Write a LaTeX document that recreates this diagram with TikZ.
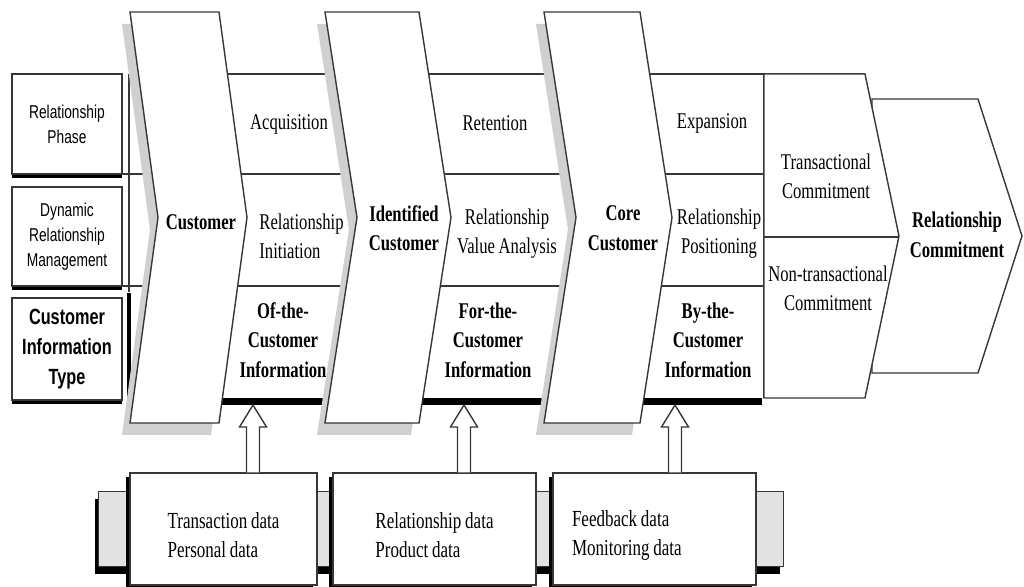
\documentclass[tikz,border=0pt]{standalone}
\usepackage{fontspec}
\setmainfont{Liberation Serif}[FakeStretch=0.74,WordSpace=0.88]
\newfontfamily\rowfont{Liberation Sans}[FakeStretch=0.74,WordSpace=0.88]
\usetikzlibrary{calc,shadows}
\definecolor{edgegray} {RGB}{55,55,55}
\definecolor{shadegray}{RGB}{208,208,208}
\definecolor{bandgray} {RGB}{226,226,226}
% hollow block arrow from a data box up to a point on a bar
\newcommand{\blockarrow}[2]{%
  \filldraw[arrline] ($(#2 |- #1.north)+(-6.5,0)$) -- ($(#2)+(-6.5,22)$)
    -- ($(#2)+(-13.5,22)$) -- (#2) -- ($(#2)+(13.5,22)$)
    -- ($(#2)+(6.5,22)$) -- ($(#2 |- #1.north)+(6.5,0)$);}
\newcommand{\firstline}{\rule{0pt}{14pt}}

\begin{document}
\begin{tikzpicture}[
  x=0.5pt,y=-0.5pt,
  line/.style   ={draw=edgegray,line width=0.7pt},
  chevron/.style={draw=edgegray,fill=white,line width=0.7pt},
  lbox/.style   ={draw=edgegray,fill=white,line width=0.7pt,
                  minimum width=55pt,align=center,inner sep=1pt,
                  font=\rowfont\fontsize{9.3pt}{12.5pt}\selectfont,
                  drop shadow={shadow xshift=0pt,shadow yshift=-2.2pt,
                               fill=black,opacity=1}},
  lboxb/.style  ={lbox,font=\rowfont\bfseries\fontsize{11pt}{15pt}\selectfont},
  cell/.style   ={align=center,inner sep=0pt,
                  font=\fontsize{11.25pt}{14.5pt}\selectfont},
  bcell/.style  ={cell,font=\bfseries\fontsize{11.25pt}{14.75pt}\selectfont},
  dbox/.style   ={draw=edgegray,fill=white,line width=0.7pt,
                  minimum width=93.5pt,minimum height=56pt,
                  align=flush left,inner ysep=2pt,
                  font=\fontsize{11.5pt}{14.5pt}\selectfont,
                  drop shadow={shadow xshift=-2pt,shadow yshift=-2pt,
                               fill=black,opacity=1}},
  band/.style   ={draw=edgegray,fill=bandgray,line width=0.5pt,
                  minimum width=342.5pt,minimum height=37.5pt,
                  drop shadow={shadow xshift=-1.6pt,shadow yshift=-3.6pt,
                               fill=black,opacity=1}},
  arrline/.style={draw=edgegray,fill=white,line width=0.7pt,line join=miter},
]
\useasboundingbox (0,0) rectangle (1024,587);

%% ── Table rows behind the chevrons ───────────────────────────────────────────
\draw[line] (129,74) -- (865,74);
\draw[line] (122,174) -- (764,174);
\draw[line,line width=1pt] (122,286) -- (764,286);
\fill[black] (129,398) rectangle (762,405);
\draw[line] (129,74) -- (129,292);
\draw[black,line width=1.6pt] (129,293) -- (129,397);
\draw[line] (764,74) -- (764,398);

%% ── Relationship commitment (end arrow) ──────────────────────────────────────
\filldraw[chevron] (872,99) -- (978,99) -- (1022,236) -- (978,373)
  -- (872,373) -- cycle;
\filldraw[chevron] (764,74) -- (865,74) -- (899,236) -- (865,398)
  -- (764,398) -- cycle;
\draw[line] (764,237) -- (899,237);

%% ── Customer chevrons with their shadows ────────────────────────────────────
\foreach \xa/\xb/\d in {130/219/28, 325/419/32, 544/640/32}{
  \fill[shadegray,shift={(-8,12)}] (\xa,12) -- (\xb,12) -- (\xb+\d,217.5)
    -- (\xb,423) -- (\xa,423) -- (\xa+\d,217.5) -- cycle;
  \filldraw[chevron] (\xa,12) -- (\xb,12) -- (\xb+\d,217.5)
    -- (\xb,423) -- (\xa,423) -- (\xa+\d,217.5) -- cycle;
}

%% ── Row labels ───────────────────────────────────────────────────────────────
\node[lbox,minimum height=50pt]   (phase)  at (67,124)   {Relationship\\Phase};
\node[lbox,minimum height=49.5pt] (drm)    at (67,236.5) {Dynamic\\Relationship\\Management};
\node[lboxb,minimum height=51pt]  (citype) at (67,349)   {Customer\\Information\\Type};

%% ── Chevron labels ───────────────────────────────────────────────────────────
\node[bcell] (cust)     at (201,222) {Customer};
\node[bcell] (idcust)   at (404,228) {Identified\\Customer};
\node[bcell] (corecust) at (623,228) {Core\\Customer};
\node[bcell] (relcom)   at (957,235) {Relationship\\Commitment};

%% ── Cells: phase / management / information type ─────────────────────────────
\node[cell]  (acq)      at (289,124) {Acquisition};
\node[cell,align=left,anchor=west] (relinit) at (259,236) {Relationship\\Initiation};
\node[bcell] (ofcust)   at (283,340) {Of-the-\\Customer\\Information};
\node[cell]  (ret)      at (495,123) {Retention};
\node[cell]  (relval)   at (507,234) {Relationship\\Value Analysis};
\node[bcell] (forcust)  at (488,340) {For-the-\\Customer\\Information};
\node[cell]  (expa)     at (712,123) {Expansion};
\node[cell]  (relpos)   at (719,234) {Relationship\\Positioning};
\node[bcell] (bycust)   at (708,340) {By-the-\\Customer\\Information};
\node[cell]  (trans)    at (826,176) {Transactional\\Commitment};
\node[cell]  (nontrans) at (828,288) {Non-transactional\\Commitment};

%% ── Data sources ─────────────────────────────────────────────────────────────
\node[band] (band) at (440.5,529.5) {};
\node[dbox] (tdata) at (223.5,529)
  {\firstline Transaction data\\Personal data};
\node[dbox,minimum width=101.5pt] (rdata) at (434.5,529)
  {\firstline Relationship data\\Product data};
\node[dbox,text width=82.5pt,inner xsep=9.5pt] (fdata) at (654.5,529)
  {\firstline Feedback data\\Monitoring data};

%% ── Data feeding the information types ───────────────────────────────────────
\coordinate (ofbar)  at (253,405);
\coordinate (forbar) at (464,405);
\coordinate (bybar)  at (675,405);
\blockarrow{tdata}{ofbar}
\blockarrow{rdata}{forbar}
\blockarrow{fdata}{bybar}

\end{tikzpicture}
\end{document}
